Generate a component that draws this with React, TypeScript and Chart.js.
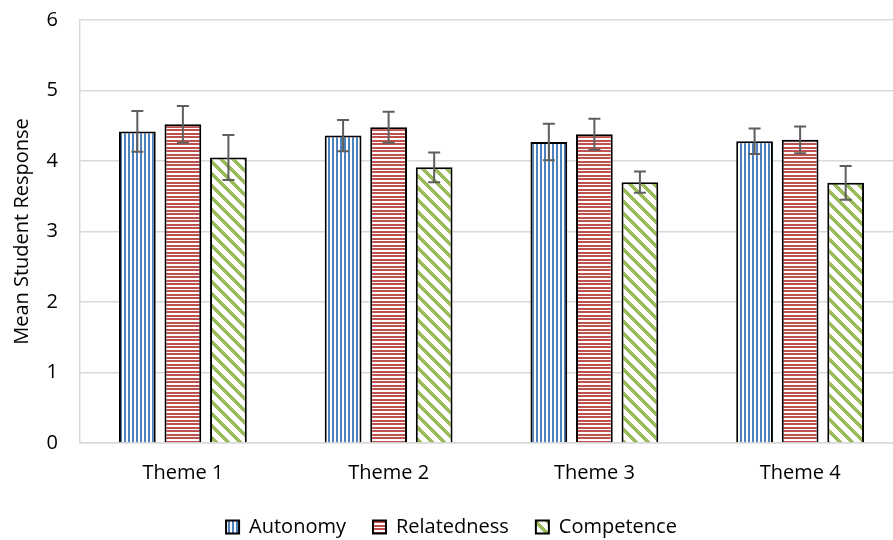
import React, { useEffect, useRef } from 'react';
import { Chart, registerables } from 'chart.js';

Chart.register(...registerables);

const categories = ['Theme 1', 'Theme 2', 'Theme 3', 'Theme 4'];
const seriesNames = ['Autonomy', 'Relatedness', 'Competence'];
const autonomy = [4.42, 4.36, 4.27, 4.28];
const relatedness = [4.52, 4.48, 4.38, 4.30];
const competence = [4.05, 3.91, 3.70, 3.69];
const autonomyErr = [0.29, 0.22, 0.26, 0.18];
const relatednessErr = [0.26, 0.22, 0.22, 0.19];
const competenceErr = [0.32, 0.21, 0.15, 0.24];
const yMin = 0;
const yMax = 6;
const yStep = 1;
const yTitle = 'Mean Student Response';

const FONT = "'Open Sans', sans-serif";

function makePattern(kind: string, color: string): CanvasPattern | string {
  const c = document.createElement('canvas');
  let w = 4, h = 4;
  if (kind === 'h') { w = 7; h = 7; }
  if (kind === 'd') { w = 12; h = 12; }
  c.width = w; c.height = h;
  const g = c.getContext('2d');
  if (!g) return color;
  g.fillStyle = '#ffffff';
  g.fillRect(0, 0, w, h);
  g.fillStyle = color;
  if (kind === 'v') {
    g.fillRect(0, 0, 2, h);
  } else if (kind === 'h') {
    g.fillRect(0, 0, w, 2);
    g.fillRect(0, 3, w, 2);
  } else {
    for (let y = 0; y < h; y++) {
      for (let x = 0; x < w; x++) {
        const d = (((x - y) % w) + w) % w;
        if (d < 5) g.fillRect(x, y, 1, 1);
      }
    }
  }
  const p = g.createPattern(c, 'repeat');
  return p || color;
}

const errorBarPlugin = {
  id: 'errorBars',
  afterDatasetsDraw(chart: any) {
    const ctx = chart.ctx;
    const yScale = chart.scales.y;
    chart.data.datasets.forEach((ds: any, i: number) => {
      const meta = chart.getDatasetMeta(i);
      if (meta.hidden) return;
      meta.data.forEach((bar: any, j: number) => {
        const v = ds.data[j];
        const e = ds.errors[j];
        const top = yScale.getPixelForValue(v + e);
        const bot = yScale.getPixelForValue(v - e);
        const x = bar.x;
        ctx.save();
        ctx.strokeStyle = '#5f5f5f';
        ctx.lineWidth = 2;
        ctx.beginPath();
        ctx.moveTo(x, top);
        ctx.lineTo(x, bot);
        ctx.moveTo(x - 6, top);
        ctx.lineTo(x + 6, top);
        ctx.moveTo(x - 6, bot);
        ctx.lineTo(x + 6, bot);
        ctx.stroke();
        ctx.restore();
      });
    });
  },
};

const legendHeightPlugin = {
  id: 'legendHeight',
  beforeLayout(chart: any) {
    const lg = chart.legend;
    if (lg && !lg.__patched) {
      const orig = lg.fit.bind(lg);
      lg.fit = function () {
        orig();
        this.height = 50;
      };
      lg.__patched = true;
    }
  },
};

export default function App() {
  const ref = useRef<HTMLCanvasElement | null>(null);

  useEffect(() => {
    document.body.style.margin = '0';
    const canvas = ref.current;
    if (!canvas) return;
    const blue = makePattern('v', '#4F81BD');
    const red = makePattern('h', '#C0504D');
    const green = makePattern('d', '#9BBB59');
    const values = [autonomy, relatedness, competence];
    const errs = [autonomyErr, relatednessErr, competenceErr];
    const fills = [blue, red, green];
    const chart = new Chart(canvas, {
      type: 'bar',
      data: {
        labels: categories,
        datasets: seriesNames.map((name, i) => ({
          label: name,
          data: values[i],
          errors: errs[i],
          backgroundColor: fills[i],
          borderColor: '#000000',
          borderWidth: 2,
          barPercentage: 0.807,
          categoryPercentage: 0.664,
        })) as any,
      },
      options: {
        responsive: false,
        animation: false,
        devicePixelRatio: 1,
        layout: { padding: { top: 20, right: 3, bottom: 0, left: 0 } },
        plugins: {
          legend: {
            position: 'bottom',
            labels: {
              font: { family: FONT, size: 20 },
              color: '#000000',
              boxWidth: 13,
              boxHeight: 13,
              padding: 27,
            },
          },
          tooltip: { enabled: false },
        },
        scales: {
          x: {
            grid: { display: false, drawTicks: false },
            border: { color: '#d9d9d9', width: 1.5 },
            ticks: { font: { family: FONT, size: 20 }, color: '#000000', padding: 18 },
            afterFit: (s: any) => { s.height = 47; },
          },
          y: {
            min: yMin,
            max: yMax,
            ticks: { stepSize: yStep, font: { family: FONT, size: 20 }, color: '#000000', padding: 22 },
            grid: { color: '#d9d9d9', lineWidth: 1.5, drawTicks: false },
            border: { color: '#d9d9d9', width: 1.5 },
            title: {
              display: true,
              text: yTitle,
              font: { family: FONT, size: 20 },
              color: '#000000',
              padding: { top: 10, bottom: 0 },
            },
            afterFit: (s: any) => {
              s.width = 80;
              s.paddingTop = 10;
              s.paddingBottom = 10;
            },
          },
        },
      },
      plugins: [legendHeightPlugin, errorBarPlugin],
    } as any);
    return () => chart.destroy();
  }, []);

  return (
    <div style={{ width: 893, height: 540, overflow: 'hidden', position: 'relative' }}>
      <canvas ref={ref} width={906} height={540} style={{ display: 'block' }} />
    </div>
  );
}
